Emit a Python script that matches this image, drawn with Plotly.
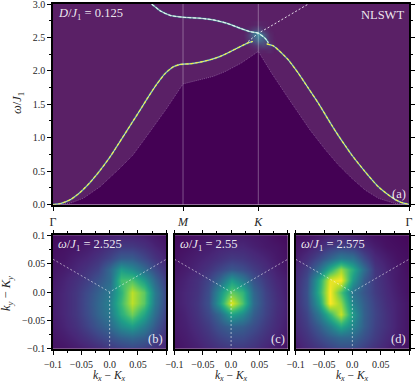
import plotly.graph_objects as go

FONT = "Liberation Serif"
INK = "#262626"
W, H = 415, 384

# top panel, path coordinate along Gamma-M-K-Gamma
path_ticks = [0, 1, 1.579, 2.738]
path_labels = ["Γ", "<i>M</i>", "<i>K</i>", "Γ"]

lower_x = [0, .054, .131, .208, .285, .362, .438, .508, .6, .669, .733, .798, .862, .925, .977, 1,
           1.054, 1.131, 1.208, 1.285, 1.362, 1.438, 1.502, 1.536]
lower_w = [0, .012, .07, .18, .33, .51, .71, .92, 1.2, 1.41, 1.61, 1.8, 1.96, 2.06, 2.095, 2.1,
           2.105, 2.13, 2.165, 2.215, 2.285, 2.36, 2.42, 2.44]

upper_x = [.759, .823, .9, 1, 1.131, 1.233, 1.336, 1.438, 1.515, 1.579, 1.631, 1.656]
upper_w = [3.0, 2.9, 2.83, 2.802, 2.787, 2.762, 2.713, 2.638, 2.587, 2.563, 2.488, 2.422]

right_x = [1.644, 1.695, 1.733, 1.81, 1.887, 1.964, 2.041, 2.144, 2.195, 2.298, 2.4, 2.502, 2.605, 2.669, 2.738]
right_w = [2.403, 2.373, 2.313, 2.163, 1.964, 1.74, 1.515, 1.185, 1.03, .741, .491, .266, .108, .037, 0]

dashed_x = [1.5, 1.579, 1.669, 1.759, 1.964]
dashed_w = [2.437, 2.563, 2.662, 2.762, 3.0]

edge_x = [0, .131, .233, .362, .508, .615, .746, .875, 1, 1.131, 1.231, 1.323, 1.446, 1.579,
          1.682, 1.81, 1.977, 2.092, 2.195, 2.298, 2.4, 2.502, 2.631, 2.738]
edge_w = [0, .018, .093, .266, .531, .741, 1.09, 1.44, 1.804, 1.874, 1.916, 1.988, 2.114, 2.29,
          1.964, 1.59, 1.115, .826, .591, .392, .217, .093, .015, 0]

glow_x = [1.46, 1.50, 1.54, 1.58, 1.62, 1.66, 1.70]
glow_w = [2.30, 2.38, 2.46, 2.54, 2.62, 2.70]
glow_z = [
    [0, 0, .02, .06, .03, .08, .01],
    [0, .04, .14, .24, .32, .22, .03],
    [.02, .18, .42, .62, .48, .14, .02],
    [.03, .24, .62, .85, .50, .10, .01],
    [.01, .08, .24, .32, .14, .03, 0],
    [0, .01, .03, .06, .03, .01, 0],
]

# bottom panels, intensity on a k grid
k_grid = [-.1, -.08, -.06, -.04, -.02, 0, .02, .04, .06, .08, .1]

z_b = [
    [.05, .06, .08, .10, .13, .17, .20, .22, .20, .15, .10],
    [.06, .08, .11, .15, .20, .25, .31, .34, .30, .21, .13],
    [.07, .10, .14, .20, .27, .34, .48, .55, .43, .28, .16],
    [.08, .11, .16, .23, .32, .41, .62, .78, .59, .35, .19],
    [.08, .11, .16, .24, .33, .44, .68, .90, .74, .40, .21],
    [.08, .11, .16, .23, .31, .41, .64, .90, .75, .41, .21],
    [.07, .10, .14, .19, .26, .35, .70, .72, .55, .33, .18],
    [.06, .08, .11, .15, .20, .34, .55, .48, .35, .23, .14],
    [.05, .06, .09, .11, .15, .21, .29, .29, .22, .15, .10],
    [.04, .05, .06, .08, .10, .14, .17, .17, .14, .10, .07],
    [.03, .04, .05, .06, .07, .09, .10, .10, .09, .07, .05],
]
z_c = [
    [.05, .07, .09, .12, .15, .17, .17, .15, .11, .08, .05],
    [.06, .08, .11, .15, .20, .24, .23, .19, .14, .10, .07],
    [.07, .09, .13, .18, .26, .32, .30, .24, .17, .12, .08],
    [.07, .10, .15, .22, .34, .58, .48, .30, .20, .13, .09],
    [.08, .11, .16, .25, .55, .96, .72, .35, .21, .14, .09],
    [.08, .11, .15, .24, .50, .76, .66, .33, .20, .13, .08],
    [.07, .10, .14, .21, .33, .55, .42, .26, .17, .11, .08],
    [.06, .08, .11, .15, .21, .27, .24, .18, .13, .09, .06],
    [.05, .07, .09, .11, .14, .17, .16, .13, .10, .07, .05],
    [.04, .05, .07, .08, .10, .11, .11, .09, .07, .06, .04],
    [.03, .04, .05, .06, .07, .08, .08, .07, .06, .04, .03],
]
z_d = [
    [.08, .12, .16, .20, .24, .24, .19, .14, .10, .07, .05],
    [.10, .15, .22, .29, .34, .33, .25, .18, .12, .08, .06],
    [.12, .18, .29, .43, .60, .46, .30, .20, .14, .09, .06],
    [.13, .21, .40, .66, .92, .54, .31, .21, .14, .09, .06],
    [.14, .24, .54, 1.0, .84, .45, .30, .20, .13, .09, .06],
    [.14, .25, .62, 1.0, .72, .38, .27, .18, .12, .08, .05],
    [.13, .23, .58, .96, 1.0, .54, .29, .17, .11, .07, .05],
    [.11, .19, .36, .62, .85, .62, .36, .16, .10, .07, .04],
    [.08, .13, .22, .32, .42, .38, .23, .12, .08, .05, .04],
    [.06, .08, .12, .17, .20, .18, .12, .08, .05, .04, .03],
    [.04, .05, .07, .09, .10, .09, .07, .05, .04, .03, .02],
]

# Brillouin zone edges through K
zone_x = [-.1, 0, .1, None, 0, 0]
zone_y = [.0577, 0, .0577, None, 0, -.1]

panels = [
    ("x2", "y2", z_b, "<i>ω</i>/<i>J</i><sub>1</sub> = 2.525", "(b)"),
    ("x3", "y3", z_c, "<i>ω</i>/<i>J</i><sub>1</sub> = 2.55", "(c)"),
    ("x4", "y4", z_d, "<i>ω</i>/<i>J</i><sub>1</sub> = 2.575", "(d)"),
]
k_ticks = [-.1, -.05, 0, .05, .1]
kx_labels = ["−0.1", "−0.05", "0.0", "0.05", ""]
ky_labels = ["−0.1", "−0.05", "0.0", "0.05", "0.1"]

fig = go.Figure()

fig.add_trace(go.Scatter(x=edge_x, y=edge_w, mode="lines", fill="tozeroy", fillcolor="#440154",
                         line=dict(color="rgba(200,170,215,0.5)", width=0.8, dash="1px,1px"),
                         xaxis="x", yaxis="y"))
fig.add_trace(go.Heatmap(x=glow_x, y=glow_w, z=glow_z, zsmooth="best", showscale=False, zmin=0, zmax=1,
                         colorscale=[[0, "rgba(60,160,170,0)"], [1, "rgba(60,170,175,0.95)"]],
                         xaxis="x", yaxis="y"))
fig.add_trace(go.Scatter(x=dashed_x, y=dashed_w, mode="lines",
                         line=dict(color="rgba(255,255,255,0.85)", width=1, dash="2px,2px"),
                         xaxis="x", yaxis="y"))
for xs, ys, core in [(lower_x, lower_w, "#f6ee3c"), (upper_x, upper_w, "#dff2ee"), (right_x, right_w, "#f6ee3c")]:
    fig.add_trace(go.Scatter(x=xs, y=ys, mode="lines",
                             line=dict(color="rgba(50,170,165,0.6)", width=2, shape="spline", smoothing=.6),
                             xaxis="x", yaxis="y"))
    fig.add_trace(go.Scatter(x=xs, y=ys, mode="lines",
                             line=dict(color="#eef6ea", width=.8, shape="spline", smoothing=.6),
                             xaxis="x", yaxis="y"))
    fig.add_trace(go.Scatter(x=xs, y=ys, mode="lines",
                             line=dict(color=core, width=1.1, shape="spline", smoothing=.6, dash="3px,2px"),
                             xaxis="x", yaxis="y"))

for xa, ya, z, title, tag in panels:
    fig.add_trace(go.Heatmap(x=k_grid, y=k_grid, z=z, zsmooth="best", colorscale="Viridis", zmin=0, zmax=1.0,
                             showscale=False, xaxis=xa, yaxis=ya))
    fig.add_trace(go.Scatter(x=zone_x, y=zone_y, mode="lines",
                             line=dict(color="rgba(255,255,255,0.6)", width=0.9, dash="2px,2px"),
                             xaxis=xa, yaxis=ya))
    fig.add_annotation(x=0, y=1, xref=f"{xa} domain", yref=f"{ya} domain", text=title, showarrow=False,
                       xanchor="left", yanchor="top", xshift=3, yshift=0,
                       font=dict(family=FONT, size=12.5, color="rgba(255,255,255,0.9)"))
    fig.add_annotation(x=1, y=0, xref=f"{xa} domain", yref=f"{ya} domain", text=tag, showarrow=False,
                       xanchor="right", yanchor="bottom", xshift=-1, yshift=1,
                       font=dict(family=FONT, size=12.5, color="rgba(255,255,255,0.9)"))
    fig.add_annotation(x=.5, y=1 - 375.5 / H, xref=f"{xa} domain", yref="paper", yanchor="middle",
                       text="<i>k<sub>x</sub></i> − <i>K<sub>x</sub></i>", showarrow=False,
                       font=dict(family=FONT, size=11.5, color=INK))

for m in path_ticks[1:3]:
    fig.add_vline(x=m, line=dict(color="rgba(255,255,255,0.32)", width=1), xref="x", yref="y")

top_notes = [
    (0, 1, "left", "top", 3, 0, "<i>D</i>/<i>J</i><sub>1</sub> = 0.125"),
    (1, 1, "right", "top", -3, -2, "NLSWT"),
    (1, 0, "right", "bottom", -1, 2, "(a)"),
]
for nx, ny, xan, yan, xs, ys, txt in top_notes:
    fig.add_annotation(x=nx, y=ny, xref="x domain", yref="y domain", text=txt, showarrow=False,
                       xanchor=xan, yanchor=yan, xshift=xs, yshift=ys,
                       font=dict(family=FONT, size=12.5, color="rgba(255,255,255,0.9)"))

side_titles = [(18, 103, "<i>ω</i>/<i>J</i><sub>1</sub>"), (7, 294, "<i>k<sub>y</sub></i> − <i>K<sub>y</sub></i>")]
for px, py, txt in side_titles:
    fig.add_annotation(x=px / W, y=1 - py / H, xref="paper", yref="paper", text=txt, textangle=-90, showarrow=False,
                       xanchor="center", yanchor="middle", font=dict(family=FONT, size=12.5, color=INK))

tick_font = dict(family=FONT, size=10, color=INK)
frame = dict(showline=True, linecolor="black", linewidth=1.6, showgrid=False, zeroline=False, ticks="outside",
             tickcolor="black", tickwidth=1.2, ticklen=4, tickfont=tick_font, automargin=False,
             ticklabeloverflow="allow")
k_minor = dict(tickmode="linear", tick0=0, dtick=.025, ticks="outside", ticklen=2.5, tickcolor="black", tickwidth=1)


def dom(p0, p1, size):
    return [p0 / size, p1 / size]


def ydom(top, bottom):
    return [1 - bottom / H, 1 - top / H]


fig.update_layout(
    template="none",
    width=W, height=H, margin=dict(l=0, r=0, t=0, b=0, autoexpand=False), showlegend=False,
    paper_bgcolor="white", plot_bgcolor="#5a2066", font=dict(family=FONT, size=10, color=INK),
    xaxis=dict(frame, domain=dom(53, 409, W), range=[0, 2.738], tickmode="array", tickvals=path_ticks,
               ticktext=path_labels, mirror=True, tickfont=dict(family=FONT, size=12, color=INK), ticklen=5),
    yaxis=dict(frame, domain=ydom(4, 204.5), range=[0, 3], tick0=0, dtick=.5, tickformat=".1f", mirror="allticks",
               minor=dict(tickmode="linear", tick0=0, dtick=.25, ticks="outside", ticklen=2.5, tickcolor="black", tickwidth=1)),
)

for i, (x0, x1) in enumerate([(53, 166.3), (174.5, 287.7), (295.7, 409)]):
    n = i + 2
    fig.update_layout({
        f"xaxis{n}": dict(frame, domain=dom(x0, x1, W), range=[-.1, .1], anchor=f"y{n}", tickmode="array",
                          tickvals=k_ticks, ticktext=kx_labels, mirror="allticks", minor=k_minor,
                          ticklabelstandoff=1),
        f"yaxis{n}": dict(frame, domain=ydom(235.3, 348.7), range=[-.1, .1], anchor=f"x{n}", tickmode="array",
                          tickvals=k_ticks, ticktext=ky_labels if i == 0 else [""] * 5, mirror=True,
                          ticks="" if i == 1 else "outside", side="right" if i == 2 else "left",
                          minor=dict(k_minor, ticks="" if i == 1 else "outside")),
    })

fig.write_html("out.html", config={"displayModeBar": False},
               post_script="document.body.style.margin='0';")
